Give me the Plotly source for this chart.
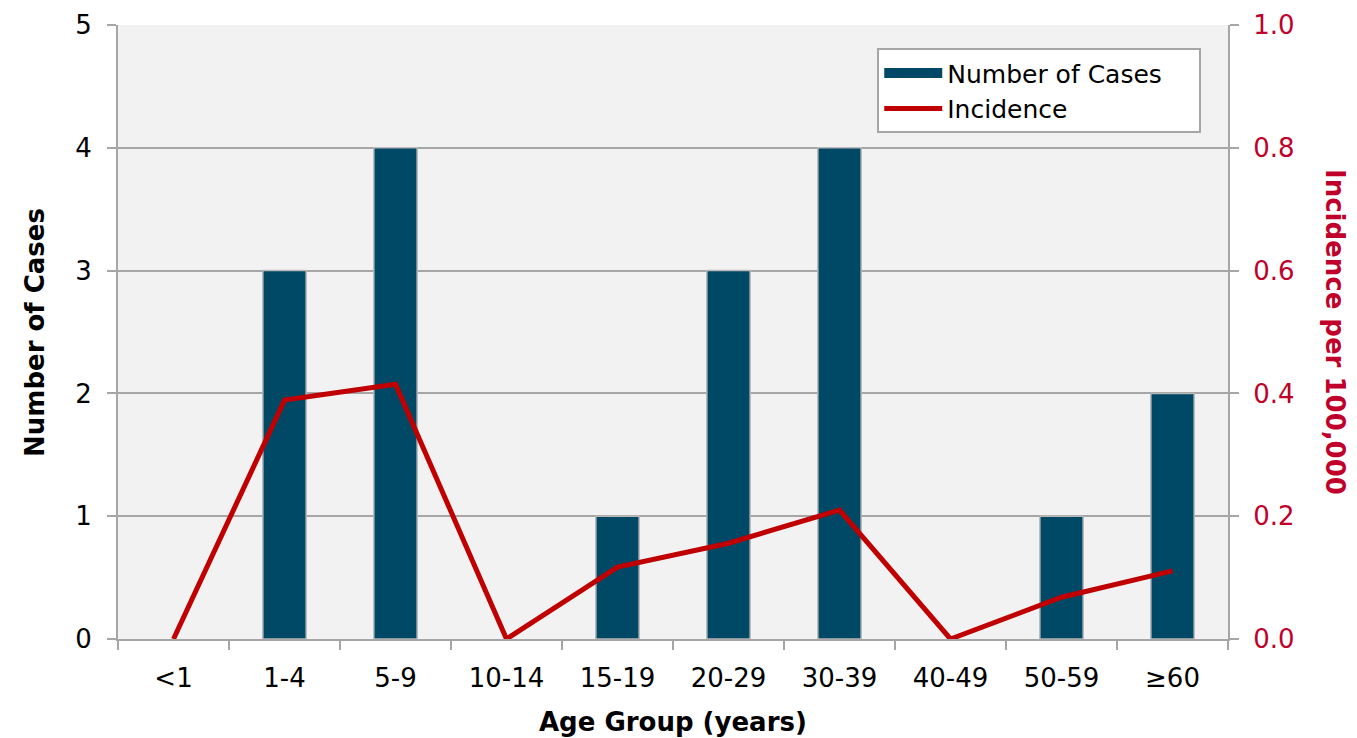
import plotly.graph_objects as go

age_groups = ["<1", "1-4", "5-9", "10-14", "15-19", "20-29", "30-39", "40-49", "50-59", "≥60"]
cases = [0, 3, 4, 0, 1, 3, 4, 0, 1, 2]
incidence = [0.0, 0.389, 0.415, 0.0, 0.117, 0.156, 0.21, 0.0, 0.068, 0.111]

FONT = "DejaVu Sans"
GRID = "#a6a6a6"
RED = "#c00000"
RED_TXT = "#c0002a"
BAR = "#004966"

fig = go.Figure()
fig.add_trace(go.Bar(
    x=age_groups, y=cases, name="Number of Cases", showlegend=False,
    marker=dict(color=BAR, line=dict(color="#b8b8b8", width=[0 if v == 0 else 1.5 for v in cases])),
    width=0.39,
))
# legend-only entry drawn as a wide swatch like the reference
fig.add_trace(go.Scatter(
    x=[None], y=[None], name="Number of Cases\u00a0\u00a0\u00a0\u00a0", mode="lines",
    line=dict(color=BAR, width=14),
))
fig.add_trace(go.Scatter(
    x=age_groups, y=incidence, name="Incidence", yaxis="y2",
    mode="lines", line=dict(color=RED, width=5),
))

fig.update_layout(
    width=1357, height=738,
    margin=dict(l=118, r=129, t=25, b=99),
    paper_bgcolor="white", plot_bgcolor="#f2f2f2",
    font=dict(family=FONT, size=26, color="black"),
    showlegend=True,
    legend=dict(
        x=0.684, y=0.962, xanchor="left", yanchor="top",
        bgcolor="white", bordercolor="#a6a6a6", borderwidth=2,
        font=dict(family=FONT, size=25, color="black"),
        tracegroupgap=0, itemwidth=58,
    ),
    xaxis=dict(
        type="category", tickson="boundaries", automargin=False,
        ticks="outside", ticklen=9, tickcolor=GRID, tickwidth=1.5,
        showline=True, linecolor=GRID, linewidth=2,
        showgrid=False, ticklabelstandoff=15,
        tickfont=dict(family=FONT, size=26),
    ),
    yaxis=dict(
        range=[0, 5], dtick=1, automargin=False,
        ticks="outside", ticklen=9, tickcolor=GRID, tickwidth=1.5,
        showline=True, linecolor=GRID, linewidth=2,
        showgrid=True, gridcolor=GRID, gridwidth=1.5,
        tickfont=dict(family=FONT, size=26), zeroline=False, ticklabelstandoff=10,
    ),
    yaxis2=dict(
        range=[0, 1], dtick=0.2, tickformat=".1f", automargin=False,
        overlaying="y", side="right",
        ticks="outside", ticklen=9, tickcolor=GRID, tickwidth=1.5,
        showline=True, linecolor=GRID, linewidth=2,
        showgrid=False, zeroline=False, ticklabelstandoff=9,
        tickfont=dict(family=FONT, size=26, color=RED_TXT),
    ),
    annotations=[
        dict(
            text="<b>Number of Cases</b>", textangle=-90,
            xref="paper", yref="paper", x=-0.0748, y=0.5,
            xanchor="center", yanchor="middle", showarrow=False,
            font=dict(family=FONT, size=26, color="black"),
        ),
        dict(
            text="<b>Incidence per 100,000</b>", textangle=90,
            xref="paper", yref="paper", x=1.0964, y=0.5,
            xanchor="center", yanchor="middle", showarrow=False,
            font=dict(family=FONT, size=26, color=RED_TXT),
        ),
        dict(
            text="<b>Age Group (years)</b>",
            xref="paper", yref="paper", x=0.5, y=-0.135,
            xanchor="center", yanchor="middle", showarrow=False,
            font=dict(family=FONT, size=26, color="black"),
        ),
    ],
)

fig.write_html(
    "out.html",
    config={"displayModeBar": False},
    post_script="document.body.style.margin='0';document.body.style.overflow='hidden';",
)
